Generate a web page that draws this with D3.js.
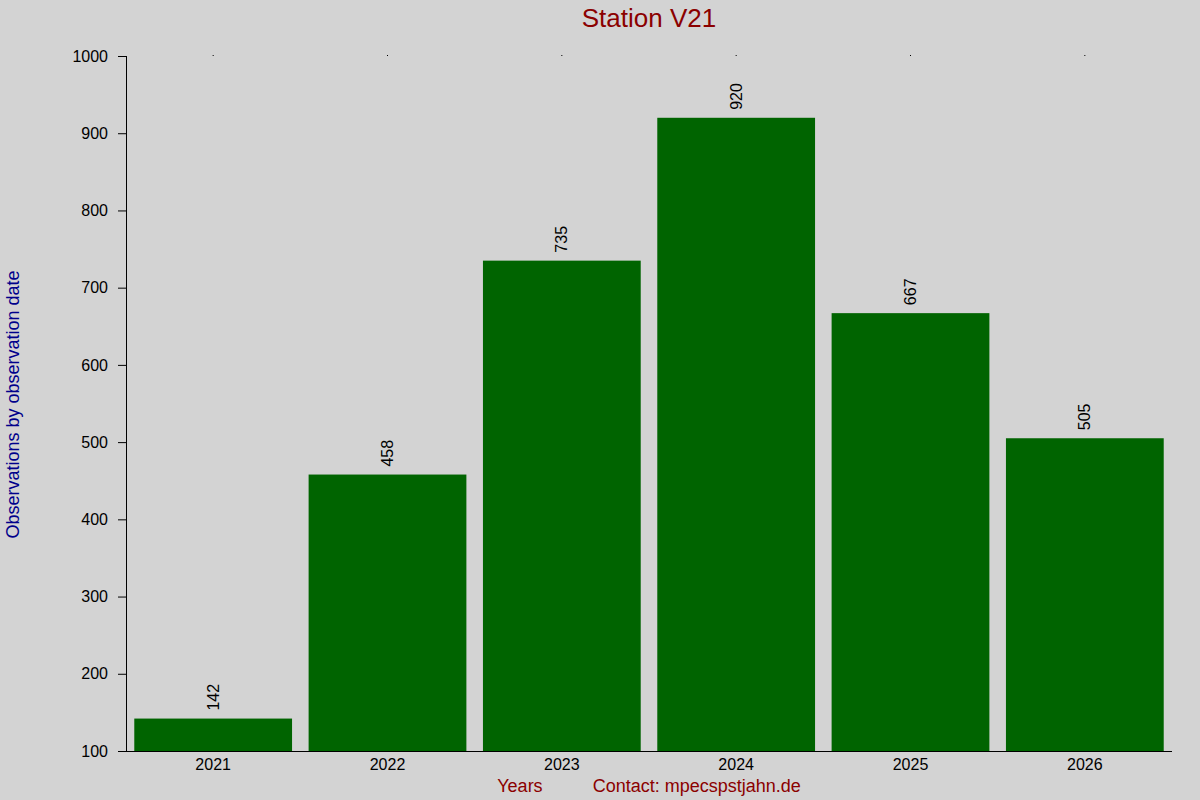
<!DOCTYPE html>
<html>
<head>
<meta charset="utf-8">
<script src="https://cdn.jsdelivr.net/npm/d3@7"></script>
<style>
  body { margin: 0; background: #d3d3d3; }
  svg { display: block; font-family: "Liberation Sans", Arial, sans-serif; }
</style>
</head>
<body>
<div id="chart"></div>
<script>
// Chart data
const years = ['2021', '2022', '2023', '2024', '2025', '2026'];
const counts = [142, 458, 735, 920, 667, 505];
const yTicks = [100, 200, 300, 400, 500, 600, 700, 800, 900, 1000];

const width = 1200;
const height = 800;
const margin = { top: 56, right: 28, bottom: 49, left: 126 };
const fontFamily = '"Liberation Sans", Arial, sans-serif';

const svg = d3.select('#chart')
    .append('svg')
    .attr('width', width)
    .attr('height', height);

svg.append('rect')
    .attr('width', width)
    .attr('height', height)
    .attr('fill', '#d3d3d3');

// Scales
const x = d3.scaleBand()
    .domain(years)
    .range([margin.left, width - margin.right])
    .paddingInner(0.095)
    .paddingOuter(0.0475);

const y = d3.scaleLinear()
    .domain([100, 1000])
    .range([height - margin.bottom, margin.top]);

const data = years.map((yr, i) => ({ year: yr, value: counts[i] }));

// Bars
svg.selectAll('.bar')
    .data(data)
    .enter().append('rect')
    .attr('class', 'bar')
    .attr('x', d => x(d.year))
    .attr('width', x.bandwidth())
    .attr('y', d => y(d.value))
    .attr('height', d => y(100) - y(d.value))
    .attr('fill', '#006400');

// Value labels, rotated above each bar
svg.selectAll('.value')
    .data(data)
    .enter().append('text')
    .attr('class', 'value')
    .attr('transform', d => `translate(${x(d.year) + x.bandwidth() / 2},${y(d.value) - 8}) rotate(-90)`)
    .attr('dy', '0.35em')
    .attr('text-anchor', 'start')
    .attr('font-size', 16)
    .attr('fill', '#000')
    .text(d => d.value);

// Y axis
const yAxis = svg.append('g')
    .attr('transform', `translate(${margin.left},0)`)
    .attr('font-family', fontFamily)
    .call(d3.axisLeft(y).tickValues(yTicks).tickFormat(d3.format('d')).tickSize(8).tickPadding(10));
yAxis.attr('font-family', fontFamily);
yAxis.selectAll('text').attr('font-size', 16).attr('fill', '#000');
yAxis.selectAll('path, line').attr('stroke', '#000');
yAxis.select('.domain').attr('d', `M0.5,${y(1000)}V${y(100)}`);

// X axis (bottom line, no ticks)
const xAxis = svg.append('g')
    .attr('transform', `translate(0,${y(100)})`)
    .call(d3.axisBottom(x).tickSize(0).tickPadding(8));
xAxis.attr('font-family', fontFamily);
xAxis.selectAll('text').attr('font-size', 16).attr('fill', '#000');
xAxis.select('.domain')
    .attr('stroke', '#000')
    .attr('d', `M${margin.left - 8},0.5H${width - margin.right}`);

// Top ticks: tiny dots at band centers
const topAxis = svg.append('g')
    .attr('transform', `translate(0,${margin.top})`)
    .call(d3.axisTop(x).tickSize(1).tickFormat(''));
topAxis.select('.domain').remove();
topAxis.selectAll('line').attr('stroke', '#000');

// Title
svg.append('text')
    .attr('x', (margin.left + width - margin.right) / 2)
    .attr('y', 27)
    .attr('text-anchor', 'middle')
    .attr('font-size', 26)
    .attr('fill', '#8b0000')
    .text('Station V21');

// Y axis label
svg.append('text')
    .attr('transform', `translate(19,${(y(100) + y(1000)) / 2 + 1}) rotate(-90)`)
    .attr('text-anchor', 'middle')
    .attr('font-size', 18)
    .attr('fill', '#00008b')
    .text('Observations by observation date');

// X axis label with contact
svg.append('text')
    .attr('x', (margin.left + width - margin.right) / 2)
    .attr('y', 792)
    .attr('text-anchor', 'middle')
    .attr('font-size', 18)
    .attr('fill', '#8b0000')
    .style('white-space', 'pre')
    .text('Years          Contact: mpecspstjahn.de');
</script>
</body>
</html>
